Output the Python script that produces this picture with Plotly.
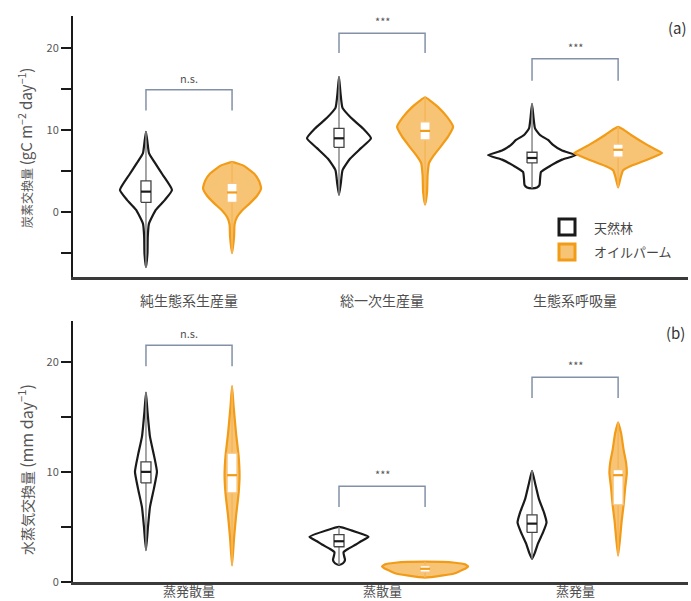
import plotly.graph_objects as go

# ---------------- data ----------------
cats_top = ["純生態系生産量", "総一次生産量", "生態系呼吸量"]
cats_bot = ["蒸発散量", "蒸散量", "蒸発量"]
series = ["天然林", "オイルパーム"]

# violin profiles: values (y) and half-widths (px)
# top panel (carbon)
nee_forest_y = [9.8, 8.5, 7.2, 6.0, 4.5, 2.7, 1.5, 0.3, -1.4, -3.0, -5.0, -6.7]
nee_forest_w = [0, 1.5, 3, 9, 17, 26, 19, 10, 3, 1.8, 1.5, 0]
nee_palm_y = [6.1, 5.7, 4.7, 3.8, 2.9, 2.0, 1.1, 0.2, -0.6, -1.5, -3.0, -5.0]
nee_palm_w = [0, 11, 22, 27, 29, 25, 18, 10, 5, 2.5, 2, 0]
gpp_forest_y = [16.5, 14.5, 12.7, 11.5, 10.2, 9.0, 7.8, 6.5, 5.1, 3.5, 2.1]
gpp_forest_w = [0, 1.5, 3.5, 12, 24, 32, 22, 11, 3.5, 1.8, 0]
gpp_palm_y = [14.0, 13.5, 12.8, 11.6, 10.4, 9.2, 7.9, 6.8, 6.0, 4.5, 2.5, 0.9]
gpp_palm_w = [0, 6, 13, 22, 28, 23, 15, 8, 4, 2.5, 2, 0]
re_forest_y = [13.2, 11.5, 10.2, 9.4, 8.8, 8.2, 7.5, 6.95, 6.4, 5.7, 4.9, 4.0, 3.3, 3.0, 2.9]
re_forest_w = [0, 1.5, 3, 8, 16, 21, 30, 44, 30, 19, 9, 8, 7.5, 5, 0]
re_palm_y = [10.4, 10.0, 9.4, 8.2, 7.6, 7.2, 6.7, 6.1, 5.6, 5.1, 4.2, 3.0]
re_palm_w = [0, 6, 13, 29, 38, 44, 35, 23, 12, 5, 2.5, 0]

# bottom panel (water)
et_forest_y = [17.2, 15.5, 13.2, 11.5, 10.0, 8.5, 6.8, 5.0, 2.9]
et_forest_w = [0, 1.5, 4, 8, 11, 8, 4, 2, 0]
et_palm_y = [17.8, 16.0, 13.5, 11.5, 9.7, 8.0, 6.0, 4.0, 1.5]
et_palm_w = [0, 1.5, 4, 6.5, 7.5, 6.5, 4, 2, 0]
t_forest_y = [5.0, 4.7, 4.1, 3.7, 3.4, 3.0, 2.7, 2.4, 2.0, 1.7, 1.55]
t_forest_w = [0, 12, 29.5, 22, 17, 9, 4.5, 5, 6, 4, 0]
t_palm_y = [1.85, 1.75, 1.6, 1.4, 1.2, 1.0, 0.8, 0.6, 0.4]
t_palm_w = [0, 30, 40, 43, 40, 35, 30, 18, 0]
e_forest_y = [10.1, 9.0, 7.5, 6.3, 5.4, 4.5, 3.5, 2.7, 2.1]
e_forest_w = [0, 3, 7, 12, 14.5, 11, 6, 3, 0]
e_palm_y = [14.5, 13.5, 12.0, 10.8, 9.9, 8.5, 7.0, 5.5, 4.0, 2.4]
e_palm_w = [0, 3, 5.5, 8, 8.7, 7, 5.5, 3.5, 2, 0]

# boxes: q1, median, q3
box_top_forest = [(1.2, 2.5, 3.8), (7.9, 9.0, 10.2), (6.0, 6.6, 7.3)]
box_top_palm = [(1.2, 2.4, 3.5), (8.8, 9.9, 11.0), (6.7, 7.6, 8.3)]
box_bot_forest = [(9.0, 10.0, 10.9), (3.2, 3.7, 4.3), (4.5, 5.3, 6.1)]
box_bot_palm = [(8.1, 9.7, 11.7), (0.9, 1.2, 1.5), (7.0, 9.7, 10.2)]

# significance brackets: bar level, leg end level, label
sig_top = [(14.9, 12.4, "n.s."), (21.8, 19.4, "***"), (18.7, 16.0, "***")]
sig_bot = [(21.5, 19.6, "n.s."), (8.7, 6.8, "***"), (18.6, 16.7, "***")]

top_forest = [(nee_forest_y, nee_forest_w), (gpp_forest_y, gpp_forest_w), (re_forest_y, re_forest_w)]
top_palm = [(nee_palm_y, nee_palm_w), (gpp_palm_y, gpp_palm_w), (re_palm_y, re_palm_w)]
bot_forest = [(et_forest_y, et_forest_w), (t_forest_y, t_forest_w), (e_forest_y, e_forest_w)]
bot_palm = [(et_palm_y, et_palm_w), (t_palm_y, t_palm_w), (e_palm_y, e_palm_w)]

# ---------------- style ----------------
FONT = "Noto Sans CJK JP, Arial, sans-serif"
PXU = 193.0          # pixels per x unit
OFF = 0.223          # offset of each violin from group centre
BLACK = "#1a1a1a"
ORANGE = "#F29B17"
ORANGE_FILL = "rgba(243,165,45,0.65)"
BRACKET = "#8391a8"
TXT = "#555555"

fig = go.Figure()


def add_violin(xc, ys, ws, xa, ya, forest):
    right_x = [xc + w / PXU for w in reversed(ws)]
    right_y = list(reversed(ys))
    left_x = [xc - w / PXU for w in ws]
    left_y = list(ys)
    xs = right_x + left_x[1:]
    yv = right_y + left_y[1:]
    fig.add_trace(go.Scatter(
        x=xs, y=yv, mode="lines", fill="toself",
        fillcolor="rgba(255,255,255,1)" if forest else ORANGE_FILL,
        line=dict(color=BLACK if forest else ORANGE, width=2.2, shape="spline", smoothing=0.45),
        xaxis=xa, yaxis=ya, hoverinfo="skip", showlegend=False))
    # whisker
    fig.add_trace(go.Scatter(
        x=[xc, xc], y=[min(ys), max(ys)], mode="lines",
        line=dict(color="#888888" if forest else "#F6B658", width=1.5),
        xaxis=xa, yaxis=ya, hoverinfo="skip", showlegend=False))


def add_box(xc, q, xa, ya, forest):
    q1, med, q3 = q
    hw = 5 / PXU
    fig.add_trace(go.Scatter(
        x=[xc - hw, xc + hw, xc + hw, xc - hw, xc - hw], y=[q1, q1, q3, q3, q1],
        mode="lines", fill="toself", fillcolor="white",
        line=dict(color="#444444" if forest else "#F7C37A", width=1.3),
        xaxis=xa, yaxis=ya, hoverinfo="skip", showlegend=False))
    fig.add_trace(go.Scatter(
        x=[xc - hw, xc + hw], y=[med, med], mode="lines",
        line=dict(color=BLACK if forest else ORANGE, width=2.2),
        xaxis=xa, yaxis=ya, hoverinfo="skip", showlegend=False))


def add_panel(forest_list, palm_list, fbox, pbox, sigs, xa, ya, xref, yref):
    for i in range(3):
        add_violin(i - OFF, forest_list[i][0], forest_list[i][1], xa, ya, True)
        add_violin(i + OFF, palm_list[i][0], palm_list[i][1], xa, ya, False)
        add_box(i - OFF, fbox[i], xa, ya, True)
        add_box(i + OFF, pbox[i], xa, ya, False)
        bar, leg, lab = sigs[i]
        fig.add_trace(go.Scatter(
            x=[i - OFF, i - OFF, i + OFF, i + OFF], y=[leg, bar, bar, leg],
            mode="lines", line=dict(color=BRACKET, width=1.5),
            xaxis=xa, yaxis=ya, hoverinfo="skip", showlegend=False))
        fig.add_annotation(x=i, y=bar, xref=xref, yref=yref, text=lab,
                           showarrow=False, xanchor="center", yanchor="bottom", yshift=2,
                           font=dict(size=11, color=TXT, family=FONT))


add_panel(top_forest, top_palm, box_top_forest, box_top_palm, sig_top, "x", "y", "x", "y")
add_panel(bot_forest, bot_palm, box_bot_forest, box_bot_palm, sig_bot, "x2", "y2", "x2", "y2")

# ---------------- layout ----------------
L, R, T, B = 73, 3, 16, 19
W, H = 691, 601
PH = H - T - B
PW = W - L - R


def py(p):
    return (H - B - p) / PH


def px(p):
    return (p - L) / PW


xr = [-0.601, 2.585]
xcommon = dict(range=xr, showgrid=False, zeroline=False, showline=True, automargin=False,
               linecolor="#3a3a3a", linewidth=2.5, ticks="", tickvals=[0, 1, 2],
               tickfont=dict(size=14, color="#505050", family=FONT), fixedrange=True)
ycommon = dict(showgrid=False, zeroline=False, showline=True, linecolor=BLACK, linewidth=2,
               automargin=False,
               ticks="outside", ticklen=10, tickwidth=2, tickcolor=BLACK,
               tickfont=dict(size=11, color=TXT, family=FONT), fixedrange=True,
               minor=dict(ticks="outside", ticklen=10, tickwidth=2, tickcolor=BLACK,
                          dtick=5, showgrid=False))

fig.update_layout(
    width=W, height=H,
    margin=dict(l=L, r=R, t=T, b=B),
    paper_bgcolor="white", plot_bgcolor="white",
    font=dict(family=FONT),
    showlegend=False,
    xaxis=dict(**xcommon, domain=[0, 1], anchor="y", ticktext=cats_top, ticklabelstandoff=9),
    yaxis=dict(**ycommon, domain=[py(277), 1], anchor="x", range=[-7.9, 23.9],
               tickvals=[0, 10, 20], ticktext=["0", "10", "20"]),
    xaxis2=dict(**xcommon, domain=[0, 1], anchor="y2", ticktext=cats_bot, showticklabels=False),
    yaxis2=dict(**ycommon, domain=[0, py(321)], anchor="x2", range=[0, 23.7],
                tickvals=[0, 10, 20], ticktext=["0", "10", "20"]),
)

# bottom category labels (placed close to the axis, as in the original)
for i, c in enumerate(cats_bot):
    fig.add_annotation(x=i, y=py(591), xref="x2", yref="paper", text=c,
                       showarrow=False, xanchor="center", yanchor="middle",
                       font=dict(size=13, color="#505050", family=FONT))

# y-axis titles
fig.add_annotation(x=px(25), y=py(148), xref="paper", yref="paper", textangle=-90,
                   xanchor="center", yanchor="middle",
                   text="炭素交換量 <span style='font-size:15px'>(gC m<sup>−2</sup> day<sup>−1</sup>)</span>",
                   showarrow=False, font=dict(size=12, color=TXT, family=FONT))
fig.add_annotation(x=px(25), y=py(470), xref="paper", yref="paper", textangle=-90,
                   xanchor="center", yanchor="middle",
                   text="水蒸気交換量 <span style='font-size:16px'>(mm day<sup>−1</sup>)</span>",
                   showarrow=False, font=dict(size=14, color=TXT, family=FONT))

# panel labels
fig.add_annotation(x=px(677), y=py(27), xref="paper", yref="paper", text="(a)",
                   xanchor="center", yanchor="middle",
                   showarrow=False, font=dict(size=15, color="#333333", family=FONT))
fig.add_annotation(x=px(675), y=py(332), xref="paper", yref="paper", text="(b)",
                   xanchor="center", yanchor="middle",
                   showarrow=False, font=dict(size=15, color="#333333", family=FONT))

# legend (manual)
leg_items = [(227, "white", BLACK), (252, "rgba(243,165,45,0.65)", ORANGE)]
for (cy, fc, lc), name in zip(leg_items, series):
    fig.add_shape(type="rect", xref="paper", yref="paper",
                  x0=px(559), x1=px(575), y0=py(cy + 8), y1=py(cy - 8),
                  fillcolor=fc, line=dict(color=lc, width=3))
    fig.add_annotation(x=px(592), y=py(cy), xref="paper", yref="paper", text=name,
                       showarrow=False, xanchor="left", yanchor="middle",
                       font=dict(size=13, color="#444444", family=FONT))

fig.write_html("out.html")
